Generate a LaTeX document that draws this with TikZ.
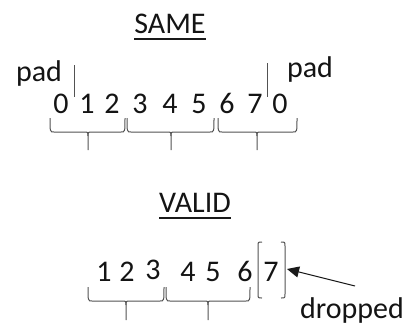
\documentclass[tikz,border=0pt]{standalone}
\usepackage{fontspec}
\setmainfont{Carlito}
\usetikzlibrary{arrows.meta}
% under-brace: #1 left x, #2 right x, #3 stem x, #4 top y, #5 bar y, #6 stem end y
\newcommand{\ubrace}[6]{%
  \draw[gline] (#1,#4) .. controls (#1,#5) .. (#1+4,#5) -- (#3-4,#5)
    .. controls (#3,#5) .. (#3,#5+4) -- (#3,#6);
  \draw[gline] (#3,#5+4) .. controls (#3,#5) .. (#3+4,#5) -- (#2-4,#5)
    .. controls (#2,#5) .. (#2,#4);
}
\begin{document}
\begin{tikzpicture}[x=1pt,y=-1pt,
  lbl/.style={font=\fontsize{30}{36}\selectfont, text=black!92, inner sep=0pt, anchor=base},
  ul/.style={draw=black!90, line width=1.4pt},
  gline/.style={draw=black!68, line width=1pt},
]
\useasboundingbox (0,0) rectangle (409,327);

% ---- SAME padding ----
\node[lbl] (same) at (170,33) {SAME};
\draw[ul] ([yshift=-6pt]same.base west) -- ([yshift=-6pt]same.base east);

\node[lbl] (padl) at (39,81) {pad};
\node[lbl] (padr) at (310,77) {pad};
\coordinate (tl1) at (74,65);  \coordinate (tl2) at (74,97);
\coordinate (tr1) at (267,63); \coordinate (tr2) at (267,97);
\draw[gline] (tl1) -- (tl2);
\draw[gline] (tr1) -- (tr2);

\foreach \d/\x [count=\i] in {0/61,1/87,2/112,3/140,4/170,5/199,6/227,7/255,0/280}
  \node[lbl] (s\i) at (\x,113) {\d};

\ubrace{50}{125}{88}{118}{132}{150}
\ubrace{127}{214}{171}{118}{132}{150}
\ubrace{218}{297}{257}{118}{132}{150}

% ---- VALID padding ----
\node[lbl] (valid) at (195,212) {VALID};
\draw[ul] ([yshift=-6pt]valid.base west) -- ([yshift=-6pt]valid.base east);

\foreach \d/\x/\y [count=\i] in {1/104/281,2/127/281,3/153/279,4/188/281,5/213/281,6/245/281,7/271/281}
  \node[lbl] (v\i) at (\x,\y) {\d};

% brackets round the dropped element
\draw[gline] (262,242) .. controls (258,242) .. (258,246) -- (258,294)
  .. controls (258,298) .. (262,298);
\draw[gline] (281,242) .. controls (285,242) .. (285,246) -- (285,294)
  .. controls (285,298) .. (281,298);

\ubrace{88}{164}{126}{287}{301}{320}
\ubrace{166}{250}{208}{287}{301}{320}

\node[lbl] (drop) at (352,318) {dropped};
\coordinate (atail) at (355,286);
\coordinate (ahead) at (287,269);
\draw[draw=black!90, line width=1pt, -{Triangle[length=12pt,width=11pt]}] (atail) -- (ahead);
\end{tikzpicture}
\end{document}
